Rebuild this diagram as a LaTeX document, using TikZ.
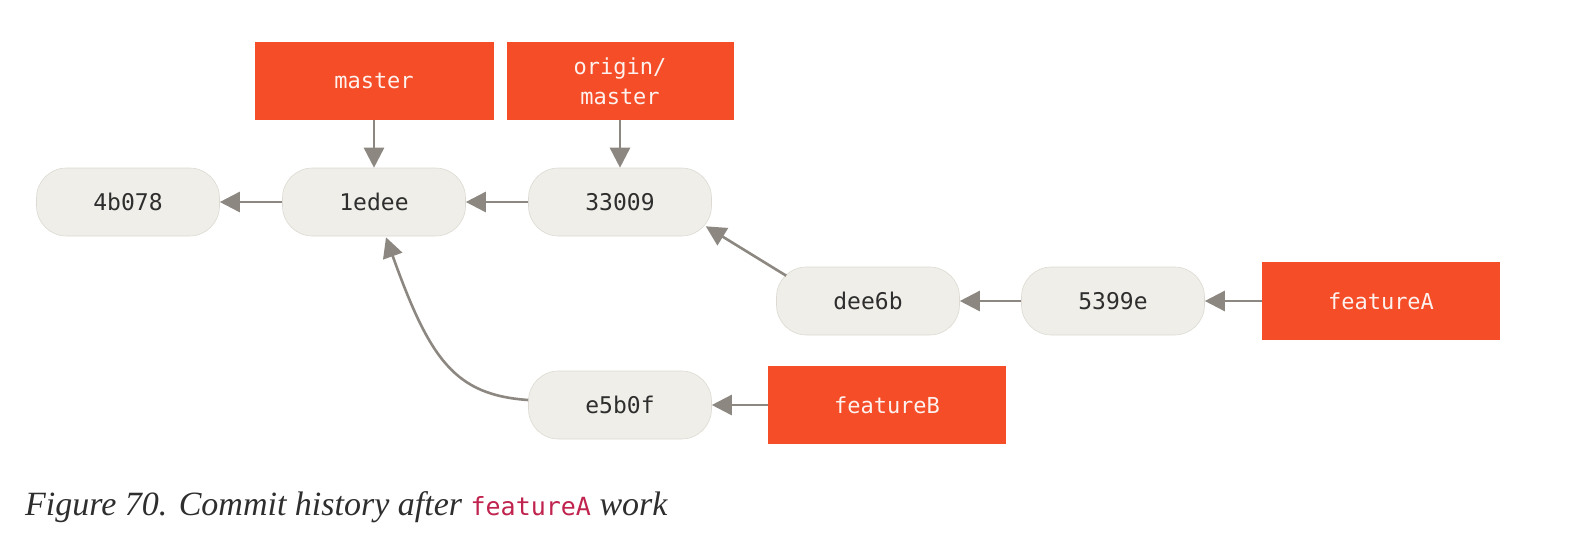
\documentclass[tikz,border=0pt]{standalone}
\usepackage{fontspec}
\setmainfont{Liberation Serif}
\setmonofont{DejaVu Sans Mono}
\usetikzlibrary{arrows.meta}
\definecolor{refred}{HTML}{F44D27}
\definecolor{commitfill}{HTML}{EFEEE8}
\definecolor{commitline}{HTML}{DCDAD2}
\definecolor{arrowgray}{HTML}{8C8780}
\definecolor{captionred}{HTML}{C0234E}
\definecolor{captiontext}{HTML}{2E2E2E}
\begin{document}
\begin{tikzpicture}[x=1pt,y=-1pt,
  commit/.style={draw=commitline, line width=0.6pt, fill=commitfill,
    rounded corners=30pt, minimum width=183pt, minimum height=68pt,
    inner sep=0pt, font=\ttfamily\fontsize{23}{26}\selectfont, text=captiontext},
  ref/.style={fill=refred, minimum height=78pt, inner sep=0pt, align=center,
    font=\ttfamily\fontsize{22}{30}\selectfont, text=white!92!refred},
  link/.style={draw=arrowgray, line width=2.6pt,
    -{Triangle[length=20pt,width=20pt]}}]
\useasboundingbox (0,0) rectangle (1572,542);

% commits
\node[commit] (c4b078) at (128,202) {4b078};
\node[commit] (c1edee) at (374,202) {1edee};
\node[commit] (c33009) at (620,202) {33009};
\node[commit] (cdee6b) at (868,301) {dee6b};
\node[commit] (c5399e) at (1113,301) {5399e};
\node[commit] (ce5b0f) at (620,405) {e5b0f};

% branch labels
\node[ref, minimum width=239pt] (master) at (374,81) {master};
\node[ref, minimum width=227pt] (origin) at (620,81) {origin/\\master};
\node[ref, minimum width=238pt] (featA) at (1381,301) {featureA};
\node[ref, minimum width=238pt] (featB) at (887,405) {featureB};

% end points of the slanted and curved links
\path (cdee6b.north west) ++(10,9) coordinate (dfrom);
\path (c33009.south east) ++(-6,-10) coordinate (dto);
\path (ce5b0f.west) ++(0,-5) coordinate (efrom);
\path (c1edee.south) ++(12,1) coordinate (eto);

% parent links
\draw[link] (c1edee) -- (c4b078);
\draw[link] (c33009) -- (c1edee);
\draw[link] (c5399e) -- (cdee6b);
\draw[link] (dfrom) -- (dto);
\draw[link] (efrom) .. controls (455,395) and (430,360) .. (eto);

% branch pointers
\draw[link] (master) -- (c1edee);
\draw[link] (origin) -- (c33009);
\draw[link] (featA) -- (c5399e);
\draw[link] (featB) -- (ce5b0f);

% caption
\node[anchor=base west, inner sep=0pt, text=captiontext,
  font=\itshape\fontsize{34}{38}\selectfont] (caption) at (25,515)
  {Figure 70. Commit history after
   {\upshape\ttfamily\color{captionred}\fontsize{25}{30}\selectfont featureA} work};
\end{tikzpicture}
\end{document}
